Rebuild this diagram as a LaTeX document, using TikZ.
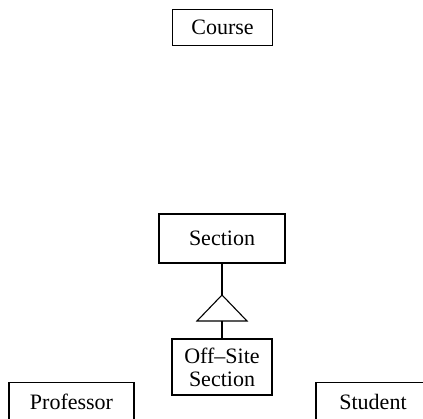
\documentclass[tikz,border=0pt]{standalone}
\usepackage{fontspec}
\setmainfont{Liberation Serif}
\usetikzlibrary{positioning}

\begin{document}
\begin{tikzpicture}[x=0.5pt, y=-0.5pt, line width=0.55pt,
    every node/.style={font=\fontsize{11}{11.5}\selectfont},
    class/.style={draw, rectangle, inner sep=0pt, align=center, minimum height=18pt}
    ]
\useasboundingbox (0,0) rectangle (423,418);
\clip (0,0) rectangle (423,418);
% classes
\node[class, minimum width=50pt] (course) at (222.5,27.5) {Course};
\node[class, minimum width=63pt, minimum height=24.5pt] (section) at (222,238.5) {Section};
\node[class, minimum width=50pt, minimum height=28pt] (offsite) at (222,367) {Off--Site\\Section};
\node[class, minimum width=62.5pt, minimum height=19.5pt] (professor) at (71.5,402) {Professor};
\node[class, minimum width=57pt, minimum height=19.5pt] (student) at (373,402) {Student};
% generalization
\coordinate (apex) at (222,295);
\coordinate (base) at (222,321);
\draw (apex) -- ([xshift=-12.5pt]base) -- ([xshift=12.5pt]base) -- cycle;
\draw (section) -- (apex);
\draw (base) -- (offsite);
\end{tikzpicture}
\end{document}
